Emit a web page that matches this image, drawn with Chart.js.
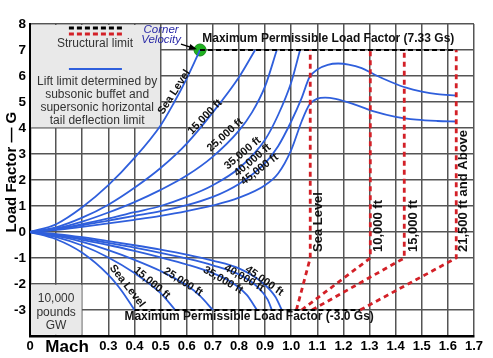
<!DOCTYPE html>
<html><head><meta charset="utf-8">
<script src="https://cdn.jsdelivr.net/npm/chart.js@4/dist/chart.umd.min.js"></script>
<style>html,body{margin:0;padding:0;background:#fff;}canvas{display:block;}</style>
</head><body>
<canvas id="c" width="493" height="358"></canvas>
<script>
// ---- data (Mach, load factor G) ----
const altitudeLabels = ['Sea Level','15,000 ft','25,000 ft','35,000 ft','40,000 ft','45,000 ft'];
const posSeaLevel = [[0,0],[0.1,0.3],[0.2,0.95],[0.3,1.8],[0.4,2.85],[0.5,4.1],[0.55,4.95],[0.6,5.9],[0.651,7]];
const pos15k = [[0,0],[0.1,0.18],[0.2,0.55],[0.3,1.05],[0.4,1.7],[0.5,2.46],[0.6,3.4],[0.7,4.6],[0.8,5.95],[0.862,7]];
const pos25k = [[0,0],[0.1,0.14],[0.2,0.4],[0.3,0.75],[0.4,1.15],[0.5,1.62],[0.6,2.17],[0.7,2.9],[0.8,3.9],[0.85,4.6],[0.9,5.6],[0.945,7]];
const pos35k = [[0,0],[0.1,0.11],[0.2,0.3],[0.3,0.52],[0.4,0.76],[0.5,1.0],[0.6,1.35],[0.7,1.8],[0.8,2.45],[0.9,3.55],[0.95,4.5],[1.0,5.75],[1.034,7]];
const pos40k = [[0,0],[0.1,0.1],[0.2,0.26],[0.3,0.44],[0.4,0.62],[0.5,0.8],[0.6,1.03],[0.7,1.35],[0.8,1.85],[0.9,2.65],[0.95,3.3],[1.0,4.25],[1.04,5.15],[1.07,5.95],[1.1,6.25],[1.14,6.43],[1.18,6.48],[1.22,6.44],[1.27,6.3],[1.32,6.05],[1.38,5.78],[1.44,5.55],[1.5,5.4],[1.56,5.3],[1.632,5.25]];
const pos45k = [[0,0],[0.1,0.08],[0.2,0.2],[0.3,0.33],[0.4,0.47],[0.5,0.62],[0.6,0.8],[0.7,1.02],[0.8,1.32],[0.9,1.8],[0.95,2.25],[1.0,3.15],[1.04,4.25],[1.07,4.9],[1.1,5.13],[1.13,5.17],[1.17,5.12],[1.25,4.88],[1.32,4.63],[1.4,4.43],[1.48,4.32],[1.56,4.27],[1.632,4.25]];
const negSeaLevel = [[0,0],[0.1,-0.28],[0.2,-0.8],[0.3,-1.65],[0.35,-2.25],[0.4,-3]];
const neg15k = [[0,0],[0.1,-0.2],[0.2,-0.52],[0.3,-0.98],[0.4,-1.58],[0.5,-2.35],[0.556,-3]];
const neg25k = [[0,0],[0.1,-0.15],[0.2,-0.38],[0.3,-0.7],[0.4,-1.07],[0.5,-1.5],[0.6,-2.05],[0.65,-2.45],[0.7,-3]];
const neg35k = [[0,0],[0.1,-0.12],[0.2,-0.3],[0.3,-0.5],[0.4,-0.73],[0.5,-0.98],[0.6,-1.25],[0.7,-1.58],[0.77,-1.92],[0.83,-2.42],[0.869,-3]];
const neg40k = [[0,0],[0.1,-0.1],[0.2,-0.25],[0.3,-0.42],[0.4,-0.6],[0.5,-0.8],[0.6,-1.02],[0.7,-1.28],[0.8,-1.63],[0.87,-2.1],[0.91,-2.6],[0.926,-3]];
const neg45k = [[0,0],[0.1,-0.08],[0.2,-0.2],[0.3,-0.35],[0.4,-0.51],[0.5,-0.68],[0.6,-0.87],[0.7,-1.1],[0.8,-1.4],[0.89,-1.95],[0.94,-2.5],[0.964,-3]];
// structural limits
const structSea = [[1.02,-3],[1.073,-1],[1.073,7]];
const struct10k = [[1.04,-3],[1.303,-1],[1.303,7]];
const struct15k = [[1.08,-3],[1.433,-1],[1.433,7]];
const struct21k = [[1.264,-3],[1.632,-1],[1.632,7]];
const structLabels = ['Sea Level','10,000 ft','15,000 ft','21,500 ft and Above'];
const posLimit = [[0.651,7],[1.632,7]];
const negLimit = [[0.4,-3],[1.264,-3]];
const cornerPoint = [[0.651,7]];
// ticks
const yTickValues = [8,7,6,5,4,3,2,1,0,-1,-2,-3];
const xTickLabels = ['0','','','0.3','0.4','0.5','0.6','0.7','0.8','0.9','1.0','1.1','1.2','1.3','1.4','1.5','1.6','1.7'];

const pts = a => a.map(p => ({x:p[0], y:p[1]}));
const BLUE = '#2f5fdc', RED = '#d32027';
const blue = d => ({data:pts(d), borderColor:BLUE, borderWidth:1.8, pointRadius:0, cubicInterpolationMode:'monotone', fill:false});
const red = d => ({data:pts(d), borderColor:RED, borderWidth:2.8, borderDash:[5,4], pointRadius:0, fill:false});
const blk = d => ({data:pts(d), borderColor:'#000', borderWidth:1.8, borderDash:[5,3], pointRadius:0, fill:false});

const datasets = [
  blk(posLimit), blk(negLimit),
  red(structSea), red(struct10k), red(struct15k), red(struct21k),
  blue(posSeaLevel), blue(pos15k), blue(pos25k), blue(pos35k), blue(pos40k), blue(pos45k),
  blue(negSeaLevel), blue(neg15k), blue(neg25k), blue(neg35k), blue(neg40k), blue(neg45k),
  {data:pts(cornerPoint), showLine:false, pointRadius:6, pointBackgroundColor:'#1fb21f', pointBorderColor:'#168a16', pointBorderWidth:1}
];

const FONT = '"Liberation Sans", Arial, sans-serif';
function txt(ctx, s, x, y, font, color, align, rot, base) {
  ctx.save(); ctx.translate(x, y); if (rot) ctx.rotate(rot*Math.PI/180);
  ctx.font = font; ctx.fillStyle = color; ctx.textAlign = align||'center'; ctx.textBaseline = base||'middle';
  ctx.fillText(s, 0, 0); ctx.restore();
}

const posLabelPos = [[0.552,5.38,-57],[0.67,4.42,-46],[0.747,3.73,-42],[0.814,3.03,-40],[0.852,2.76,-40],[0.879,2.41,-38]];
const negLabelPos = [[0.372,-2.08,52],[0.467,-1.96,40],[0.586,-1.92,32],[0.739,-1.85,30],[0.82,-1.77,30],[0.897,-1.88,35]];
const structLabelX = [1.103,1.333,1.467,1.659];

const deco = {
  id:'deco',
  beforeDatasetsDraw(chart){
    const {ctx, scales:{x,y}} = chart;
    ctx.save(); ctx.fillStyle = '#e9e9e9';
    ctx.fillRect(x.getPixelForValue(0)+1, y.getPixelForValue(8)+1, x.getPixelForValue(0.5)-x.getPixelForValue(0)-1.6, y.getPixelForValue(4)-y.getPixelForValue(8)-1.6);
    ctx.fillRect(x.getPixelForValue(0)+1, y.getPixelForValue(-2)+0.8, x.getPixelForValue(0.2)-x.getPixelForValue(0)-1.6, y.getPixelForValue(-4)-y.getPixelForValue(-2)-2);
    ctx.restore();
  },
  afterDatasetsDraw(chart){
    const {ctx, scales:{x,y}} = chart;
    const X = v => x.getPixelForValue(v), Y = v => y.getPixelForValue(v);
    ctx.save();
    ctx.lineWidth = 3; ctx.setLineDash([5,3]);
    ctx.strokeStyle = '#000'; ctx.beginPath(); ctx.moveTo(X(0.149),Y(7.85)); ctx.lineTo(X(0.352),Y(7.85)); ctx.stroke();
    ctx.strokeStyle = RED; ctx.beginPath(); ctx.moveTo(X(0.149),Y(7.62)); ctx.lineTo(X(0.352),Y(7.62)); ctx.stroke();
    ctx.setLineDash([]); ctx.lineWidth = 2; ctx.strokeStyle = BLUE;
    ctx.beginPath(); ctx.moveTo(X(0.149),Y(6.27)); ctx.lineTo(X(0.352),Y(6.27)); ctx.stroke();
    ctx.restore();
    const reg = '12px '+FONT;
    txt(ctx,'Structural limit',X(0.249),Y(7.23),reg,'#333');
    ['Lift limit determined by','subsonic buffet and','supersonic horizontal','tail deflection limit'].forEach((s,i)=>txt(ctx,s,X(0.257),Y(5.77-0.5*i),reg,'#333'));
    ['10,000','pounds','GW'].forEach((s,i)=>txt(ctx,s,X(0.1),Y(-2.58-0.52*i),reg,'#333'));
    txt(ctx,'Corner',X(0.502),Y(7.77),'italic 11.5px '+FONT,'#2a2aa8');
    txt(ctx,'Velocity',X(0.502),Y(7.38),'italic 11.5px '+FONT,'#2a2aa8');
    ctx.save(); ctx.strokeStyle='#000'; ctx.fillStyle='#000'; ctx.lineWidth=1.3;
    const ax0=X(0.578), ay0=Y(7.23), ax1=X(0.632), ay1=Y(7.05);
    ctx.beginPath(); ctx.moveTo(ax0,ay0); ctx.lineTo(ax1,ay1); ctx.stroke();
    const ang=Math.atan2(ay1-ay0,ax1-ax0);
    ctx.beginPath(); ctx.moveTo(ax1+2*Math.cos(ang),ay1+2*Math.sin(ang)); ctx.lineTo(ax1-6*Math.cos(ang)+3*Math.sin(ang), ay1-6*Math.sin(ang)-3*Math.cos(ang)); ctx.lineTo(ax1-6*Math.cos(ang)-3*Math.sin(ang), ay1-6*Math.sin(ang)+3*Math.cos(ang)); ctx.closePath(); ctx.fill();
    ctx.restore();
    txt(ctx,'Maximum Permissible Load Factor (7.33 Gs)',X(1.142),Y(7.42),'bold 12px '+FONT,'#111');
    txt(ctx,'Maximum Permissible Load Factor (-3.0 Gs)',X(0.839),Y(-3.27),'bold 12px '+FONT,'#111');
    const lf = 'bold 11px '+FONT;
    altitudeLabels.forEach((s,i)=>{
      const p=posLabelPos[i]; txt(ctx,s,X(p[0]),Y(p[1]),lf,'#111','center',p[2]);
      const q=negLabelPos[i]; txt(ctx,s,X(q[0]),Y(q[1]),lf,'#111','center',q[2]);
    });
    structLabels.forEach((s,i)=>txt(ctx,s,X(structLabelX[i]),Y(-0.77),'bold 13px '+FONT,'#111','left',-90));
  },
  afterDraw(chart){
    const {ctx, scales:{x,y}} = chart;
    txt(ctx,'Mach',x.getPixelForValue(0.142),347,'bold 17px '+FONT,'#000');
    txt(ctx,'Load Factor — G',12,y.getPixelForValue(2.3),'bold 15px '+FONT,'#000','center',-90);
  }
};

new Chart(document.getElementById('c'), {
  type:'line',
  data:{datasets},
  options:{
    responsive:false, animation:false, devicePixelRatio:1,
    layout:{padding:{top:24,right:19,left:0,bottom:0}},
    plugins:{legend:{display:false}, tooltip:{enabled:false}},
    scales:{
      x:{type:'linear', min:0, max:1.7,
         afterFit(s){s.height=22;},
         ticks:{stepSize:0.1, autoSkip:false, maxRotation:0, padding:3, color:'#000', font:{family:FONT, size:13, weight:'bold'},
           callback:(v)=>{const i=Math.round(v*10); return xTickLabels[i]!==undefined?xTickLabels[i]:'';}},
         grid:{color:'#555', lineWidth:1.5, drawTicks:false},
         border:{color:'#000', width:2.5}},
      y:{type:'linear', min:-4, max:8,
         afterFit(s){s.width=30;},
         ticks:{stepSize:1, padding:4, color:'#000', font:{family:FONT, size:13.5, weight:'bold'},
           callback:(v)=>yTickValues.includes(v)?String(v):''},
         grid:{color:'#555', lineWidth:1.5, drawTicks:false},
         border:{color:'#000', width:2.2}}
    }
  },
  plugins:[deco]
});
</script>
</body></html>
